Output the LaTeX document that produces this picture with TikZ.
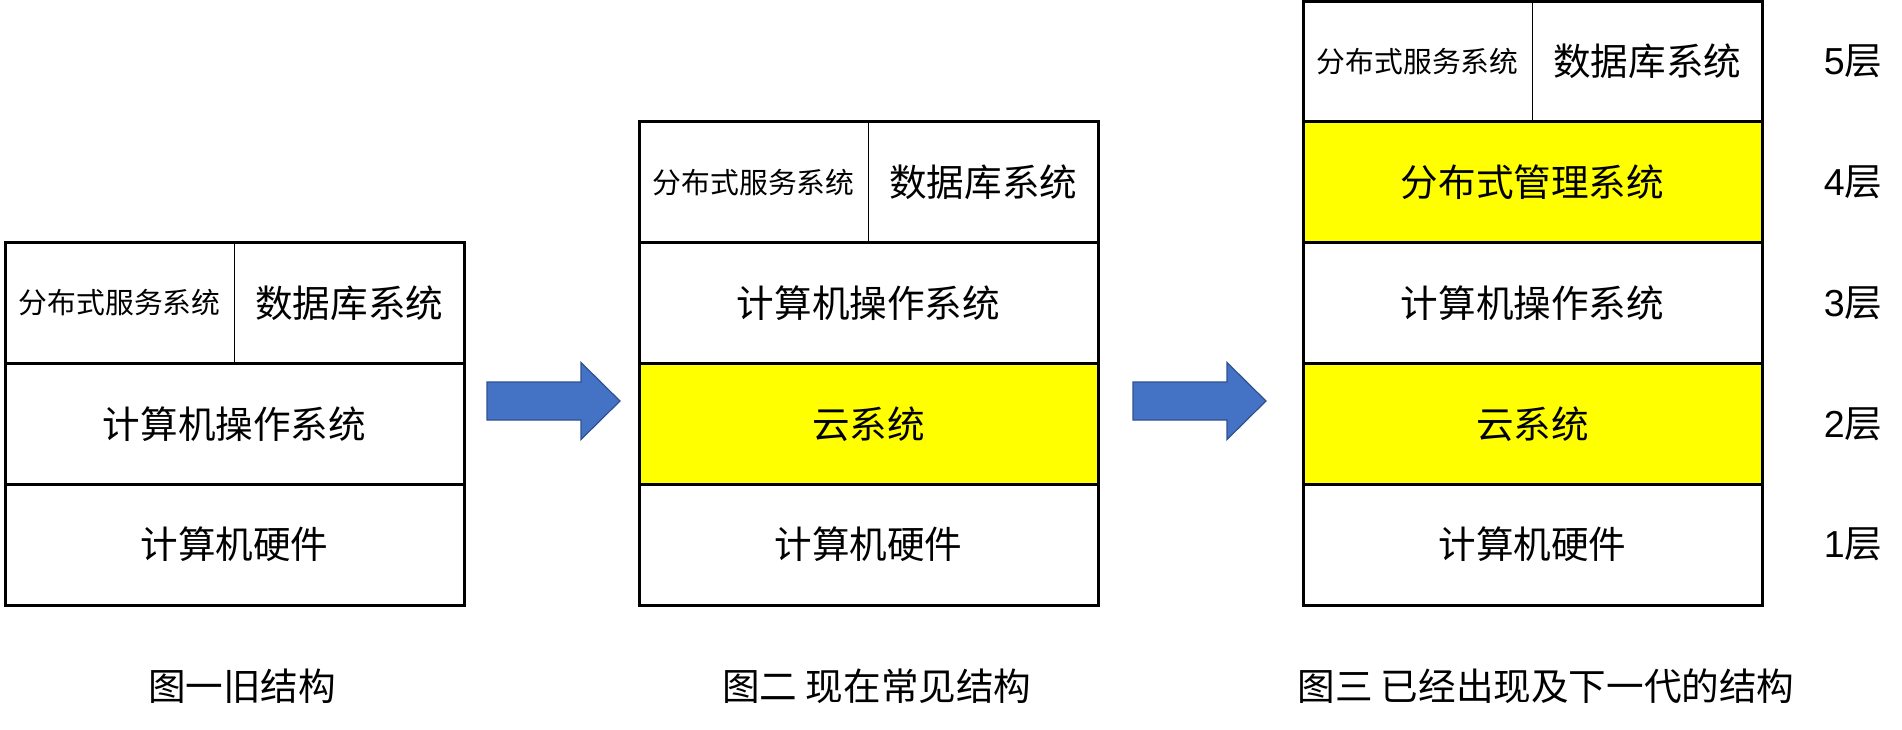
\documentclass[tikz,border=0pt]{standalone}
\usepackage{fontspec}
\setmainfont{Noto Sans CJK SC}
\newfontfamily\digitfont{Liberation Sans}
\usepackage{xcolor}
\usepackage{tikz}
\usetikzlibrary{positioning}
\definecolor{layeryellow}{HTML}{FFFF00}
\definecolor{arrowblue}{HTML}{4472C4}
\definecolor{arrowedge}{HTML}{2F528F}

\begin{document}
\begin{tikzpicture}[x=0.5pt,y=-0.5pt,
		layer/.style={draw,line width=1.5pt,rectangle,minimum width=229.5pt,minimum height=60.4pt,inner sep=0pt,outer sep=0pt,anchor=north west,font=\fontsize{18.8pt}{20pt}\selectfont},
		halfcell/.style={layer,draw=none,minimum width=114.75pt},
		smallcell/.style={halfcell,font=\fontsize{14.4pt}{16pt}\selectfont},
		frame/.style={line width=1.5pt},
		divider/.style={line width=0.75pt},
		cloud/.style={fill=layeryellow},
		bluearrow/.style={fill=arrowblue,draw=arrowedge,line width=0.6pt},
		caption/.style={font=\fontsize{18.8pt}{20pt}\selectfont},
		level/.style={font=\fontsize{18.8pt}{20pt}\selectfont}]
		\useasboundingbox (0,0) rectangle (1902,729);
		% old structure
		\node[smallcell] (oldserv) at (5,242.6) {分布式服务系统};
		\node[halfcell] (olddb) at (234.5,242.6) {数据库系统};
		\draw[frame] (oldserv.north west) rectangle (olddb.south east);
		\draw[divider] (oldserv.north east) -- (oldserv.south east);
		\node[layer] (oldos) at (5,363.4) {计算机操作系统};
		\node[layer] (oldhw) at (5,484.2) {计算机硬件};
		% current structure
		\node[smallcell] (nowserv) at (639,121.8) {分布式服务系统};
		\node[halfcell] (nowdb) at (868.5,121.8) {数据库系统};
		\draw[frame] (nowserv.north west) rectangle (nowdb.south east);
		\draw[divider] (nowserv.north east) -- (nowserv.south east);
		\node[layer] (nowos) at (639,242.6) {计算机操作系统};
		\node[layer,cloud] (nowcloud) at (639,363.4) {云系统};
		\node[layer] (nowhw) at (639,484.2) {计算机硬件};
		% next structure
		\node[smallcell] (newserv) at (1303,1) {分布式服务系统};
		\node[halfcell] (newdb) at (1532.5,1) {数据库系统};
		\draw[frame] (newserv.north west) rectangle (newdb.south east);
		\draw[divider] (newserv.north east) -- (newserv.south east);
		\node[layer,cloud] (newmgr) at (1303,121.8) {分布式管理系统};
		\node[layer] (newos) at (1303,242.6) {计算机操作系统};
		\node[layer,cloud] (newcloud) at (1303,363.4) {云系统};
		\node[layer] (newhw) at (1303,484.2) {计算机硬件};
		% levels
		\node[level] (lvfive) at (1853,61.4) {{\digitfont 5}层};
		\node[level] (lvfour) at (1853,182.2) {{\digitfont 4}层};
		\node[level] (lvthree) at (1853,303) {{\digitfont 3}层};
		\node[level] (lvtwo) at (1853,423.8) {{\digitfont 2}层};
		\node[level] (lvone) at (1853,544.6) {{\digitfont 1}层};
		% arrows
		\coordinate (arrowA) at (487,382);
		\coordinate (arrowB) at (1133,382);
		\filldraw[bluearrow] (arrowA) -- ++(94,0) -- ++(0,-19.5) -- ++(39,38.5) -- ++(-39,38.5) -- ++(0,-19.5) -- ++(-94,0) -- cycle;
		\filldraw[bluearrow] (arrowB) -- ++(94,0) -- ++(0,-19.5) -- ++(39,38.5) -- ++(-39,38.5) -- ++(0,-19.5) -- ++(-94,0) -- cycle;
		% captions
		\node[caption] (capone) at (242,686) {图一旧结构};
		\node[caption] (captwo) at (877,686) {图二 现在常见结构};
		\node[caption] (capthree) at (1546,686) {图三 已经出现及下一代的结构};
	\end{tikzpicture}
\end{document}
